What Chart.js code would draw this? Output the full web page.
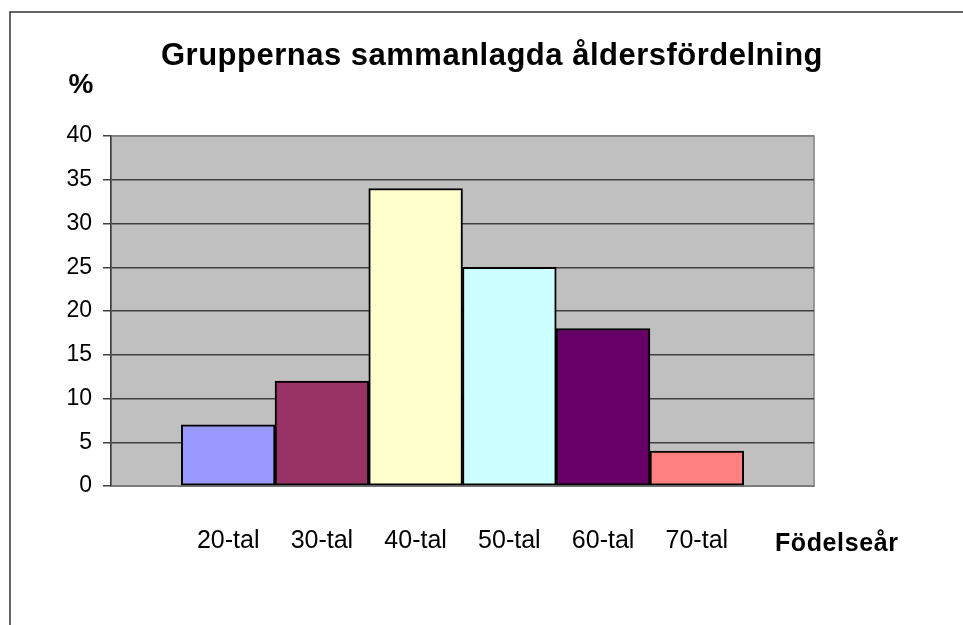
<!DOCTYPE html>
<html>
<head>
<meta charset="utf-8">
<script src="https://cdn.jsdelivr.net/npm/chart.js@4"></script>
<style>
    html, body { margin: 0; padding: 0; background: #fff; }
    #wrap { width: 963px; height: 625px; position: relative; }
</style>
</head>
<body>
<div id="wrap"><canvas id="ageChart" width="963" height="625"></canvas></div>
<script>
/* --- DATA --- */
const categories = ['20-tal', '30-tal', '40-tal', '50-tal', '60-tal', '70-tal'];
const percentValues = [7, 12, 34, 25, 18, 4];
const barColors = ['#9999ff', '#993366', '#ffffcc', '#ccffff', '#660066', '#ff8080'];
const yTicks = [0, 5, 10, 15, 20, 25, 30, 35, 40];

const chartTitle = 'Gruppernas sammanlagda åldersfördelning';
const yLabel = '%';
const xLabel = 'Födelseår';

const FONT = "'Liberation Sans', Arial, sans-serif";

// plot background, frame and free texts
const decoPlugin = {
    id: 'deco',
    beforeDraw(chart) {
        const { ctx, chartArea: a } = chart;
        ctx.save();
        ctx.fillStyle = '#c0c0c0';
        ctx.fillRect(a.left, a.top, a.right - a.left, a.bottom - a.top);
        ctx.strokeStyle = '#808080'; ctx.lineWidth = 1.5;
        ctx.strokeRect(a.left, a.top, a.right - a.left, a.bottom - a.top);

        // outer frame (only top and left are visible)
        ctx.strokeStyle = '#333'; ctx.lineWidth = 1.5;
        ctx.beginPath();
        ctx.moveTo(963, 12); ctx.lineTo(10, 12); ctx.lineTo(10, 625);
        ctx.stroke();
        ctx.restore();
    },
    afterDraw(chart) {
        const { ctx } = chart;
        ctx.save();
        ctx.fillStyle = '#000';
        ctx.textBaseline = 'alphabetic';

        ctx.font = `bold 31px ${FONT}`;
        ctx.letterSpacing = '0.5px';
        ctx.textAlign = 'center';
        ctx.fillText(chartTitle, 492, 65);

        ctx.font = `bold 28px ${FONT}`;
        ctx.letterSpacing = '0px';
        ctx.fillText(yLabel, 81, 93);

        ctx.font = `bold 25px ${FONT}`;
        ctx.letterSpacing = '0.6px';
        ctx.textAlign = 'left';
        ctx.fillText(xLabel, 775, 551);
        ctx.restore();
    }
};

function initChart() {
    const ctx = document.getElementById('ageChart').getContext('2d');
    Chart.defaults.font.family = FONT;
    Chart.defaults.color = '#000';

    new Chart(ctx, {
        type: 'bar',
        data: {
            datasets: [{
                data: percentValues.map((v, i) => ({ x: i, y: v })),
                backgroundColor: barColors,
                borderColor: '#000',
                borderWidth: 2,
                borderSkipped: false,
                barPercentage: 1,
                categoryPercentage: 1
            }]
        },
        options: {
            responsive: false,
            animation: false,
            layout: { padding: { left: 0, right: 149, top: 136, bottom: 0 } },
            plugins: { legend: { display: false }, title: { display: false }, tooltip: { enabled: false } },
            scales: {
                x: {
                    type: 'linear',
                    offset: false,
                    min: -1.25, max: 6.25,
                    afterFit: s => { s.height = 139; },
                    afterBuildTicks: s => { s.ticks = categories.map((c, i) => ({ value: i })); },
                    grid: { display: false, drawTicks: false },
                    border: { display: true, color: '#808080', width: 1.5 },
                    ticks: {
                        padding: 40,
                        autoSkip: false,
                        maxRotation: 0,
                        font: { size: 25 },
                        callback: v => categories[v]
                    }
                },
                y: {
                    min: 0, max: 40,
                    afterFit: s => { s.width = 111; },
                    afterBuildTicks: s => { s.ticks = yTicks.map(v => ({ value: v })); },
                    grid: {
                        color: c => (c.tick && c.tick.value === 40) ? '#808080' : '#404040',
                        tickColor: '#404040',
                        tickLength: 8,
                        lineWidth: 1.5
                    },
                    border: { display: true, color: '#404040', width: 1.5 },
                    ticks: { padding: 11, font: { size: 23 } }
                }
            }
        },
        plugins: [decoPlugin]
    });
}

window.onload = () => { initChart(); };
</script>
</body>
</html>
